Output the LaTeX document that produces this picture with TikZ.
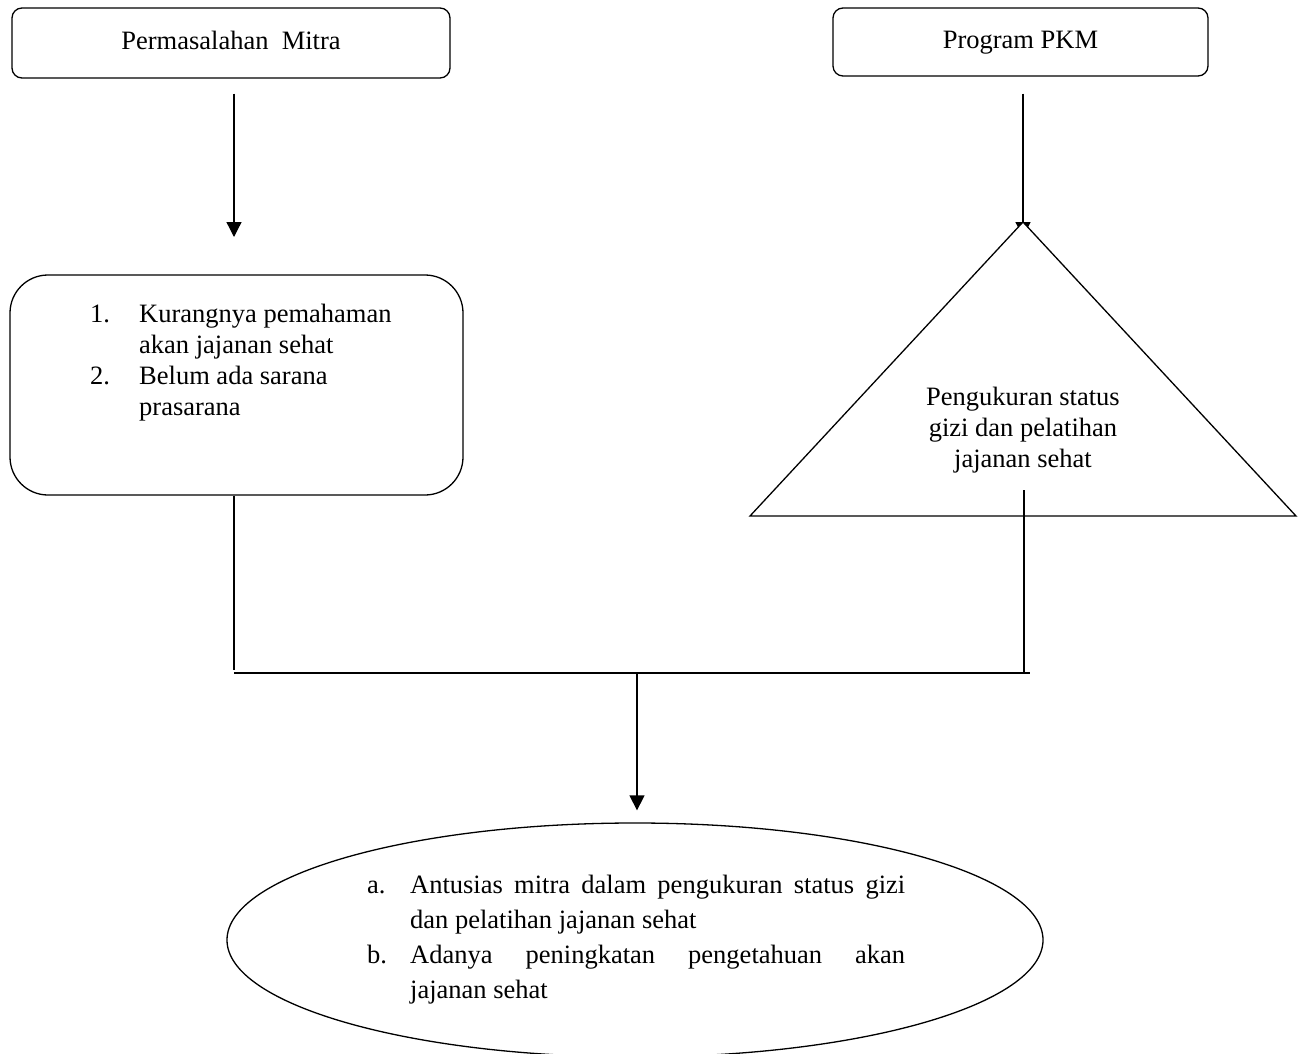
\documentclass[tikz,border=0pt]{standalone}
\usepackage{fontspec}
\setmainfont{Liberation Serif}
\usetikzlibrary{shapes.geometric,arrows.meta}
\begin{document}
\begin{tikzpicture}[x=1pt,y=-1pt,
  every node/.style={font=\fontsize{26.5}{31}\selectfont},
  ln/.style={line width=1.3pt},
  box/.style={draw, ln, rounded corners=10pt, text height=18pt, text depth=5pt, inner sep=0pt},
  arr/.style={ln, -{Triangle[length=15pt,width=15pt]}},
  txt/.style={inner sep=0pt, anchor=base west}]
\fill[white] (0,0) rectangle (1304,1054);
\useasboundingbox (0,0) rectangle (1304,1054);

% top boxes
\node[box, minimum width=438pt, minimum height=70pt] (p1) at (231,43) {Permasalahan\ \ Mitra};
\node[box, minimum width=375pt, minimum height=68pt] (p2) at (1020.5,42) {Program PKM};

% problem box
\node[box, rounded corners=38pt, minimum width=453pt, minimum height=220pt] (k) at (236.5,385) {};
\node[txt] (kt) at (90,322) {\parbox[t]{340pt}{\makebox[49pt][l]{1.}Kurangnya pemahaman\\\hspace*{49pt}akan jajanan sehat\\\makebox[49pt][l]{2.}Belum ada sarana\\\hspace*{49pt}prasarana}};

% arrows from top boxes
\coordinate (a1) at (234,237);
\coordinate (a2) at (1023,237);
\draw[arr] ([yshift=-15pt]p1.south -| a1) -- (a1);
\draw[arr] ([yshift=-17pt]p2.south -| a2) -- (a2);

% triangle (drawn over the arrow tip)
\coordinate (apex) at (1023,222);
\coordinate (bl) at (750,516);
\coordinate (br) at (1296,516);
\filldraw[ln, fill=white] (apex) -- (bl) -- (br) -- cycle;
\node[inner sep=0pt, anchor=base] (tt) at (1023,405) {\parbox[t]{230pt}{\centering Pengukuran status\\gizi dan pelatihan\\jajanan sehat}};

% result ellipse
\node[draw, ln, ellipse, minimum width=816pt, minimum height=234pt, inner sep=0pt] (el) at (635,940) {};
\node[txt] (et) at (367,893) {\parbox[t]{538pt}{\hyphenpenalty=10000 \tolerance=10000 \baselineskip=35pt
\hangindent=43pt\hangafter=1 \makebox[43pt][l]{a.}Antusias mitra dalam pengukuran status gizi\linebreak dan pelatihan jajanan sehat\par
\hangindent=43pt\hangafter=1 \makebox[43pt][l]{b.}Adanya peningkatan pengetahuan akan\linebreak jajanan sehat}};

% joining lines
\coordinate (jl) at (234,673);
\coordinate (jr) at (1030,673);
\coordinate (jm) at (637,673);
\coordinate (tv) at (1024,490);
\draw[ln] (k.south -| jl) -- ([yshift=3pt]jl);
\draw[ln] (tv) -- (tv |- jr);
\draw[ln] (jl) -- (jr);
\draw[arr] (jm) -- ([yshift=12pt]el.north -| jm);
\end{tikzpicture}
\end{document}
